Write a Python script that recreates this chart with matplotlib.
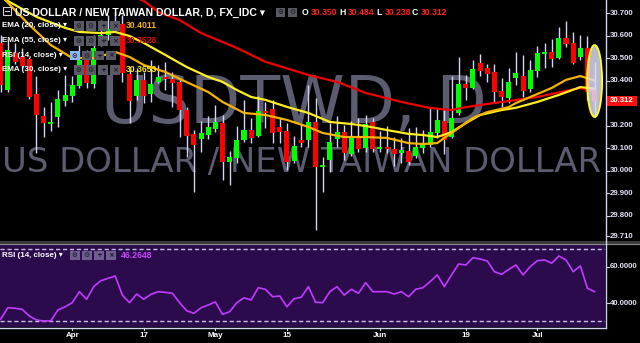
import numpy as np
import pandas as pd
import matplotlib
matplotlib.use("Agg")
import matplotlib.pyplot as plt
from matplotlib.patches import Rectangle, Ellipse

# daily bars, USDTWD (FX_IDC), 20 Mar - 13 Jul 2017
dates = pd.bdate_range("2017-03-20", "2017-07-13")

opens = [30.568, 30.359, 30.524, 30.506, 30.497, 30.341, 30.244, 30.208, 30.239, 30.310,
         30.332, 30.377, 30.492, 30.386, 30.568, 30.604, 30.630, 30.652, 30.430, 30.332,
         30.404, 30.341, 30.395, 30.412, 30.408, 30.395, 30.270, 30.164, 30.141, 30.159,
         30.186, 30.212, 30.039, 30.057, 30.137, 30.181, 30.155, 30.262, 30.275, 30.195,
         30.177, 30.044, 30.137, 30.137, 30.217, 30.017, 30.048, 30.141, 30.172, 30.075,
         30.146, 30.101, 30.217, 30.097, 30.106, 30.097, 30.079, 30.088, 30.066, 30.101,
         30.115, 30.168, 30.221, 30.150, 30.257, 30.386, 30.368, 30.479, 30.457, 30.439,
         30.355, 30.324, 30.412, 30.421, 30.364, 30.444, 30.519, 30.528, 30.501, 30.590,
         30.568, 30.506, 30.546, 30.350]
highs = [30.604, 30.581, 30.568, 30.546, 30.506, 30.421, 30.284, 30.306, 30.359, 30.426,
         30.421, 30.559, 30.537, 30.604, 30.670, 30.692, 30.706, 30.692, 30.448, 30.457,
         30.439, 30.492, 30.470, 30.484, 30.439, 30.404, 30.284, 30.181, 30.221, 30.244,
         30.292, 30.248, 30.088, 30.199, 30.315, 30.235, 30.332, 30.306, 30.315, 30.235,
         30.212, 30.155, 30.212, 30.381, 30.324, 30.061, 30.212, 30.244, 30.203, 30.221,
         30.235, 30.248, 30.235, 30.177, 30.199, 30.150, 30.146, 30.190, 30.195, 30.181,
         30.279, 30.279, 30.270, 30.421, 30.506, 30.426, 30.492, 30.519, 30.475, 30.475,
         30.412, 30.457, 30.528, 30.515, 30.492, 30.555, 30.568, 30.586, 30.639, 30.666,
         30.617, 30.604, 30.599, 30.484]
lows = [30.350, 30.350, 30.475, 30.457, 30.319, 30.079, 30.150, 30.177, 30.195, 30.288,
        30.306, 30.368, 30.368, 30.368, 30.555, 30.581, 30.626, 30.395, 30.212, 30.315,
        30.301, 30.306, 30.390, 30.359, 30.284, 30.150, 30.061, 29.906, 30.084, 30.141,
        30.172, 29.959, 29.937, 30.035, 30.128, 30.124, 30.150, 30.190, 30.124, 30.124,
        30.004, 30.035, 30.106, 30.106, 29.737, 29.906, 29.995, 30.106, 30.048, 30.066,
        30.084, 30.084, 30.084, 30.084, 30.079, 30.021, 30.035, 30.026, 30.057, 30.079,
        30.106, 30.146, 30.075, 30.145, 30.250, 30.315, 30.365, 30.421, 30.395, 30.301,
        30.284, 30.301, 30.381, 30.328, 30.350, 30.417, 30.457, 30.461, 30.498, 30.550,
        30.475, 30.492, 30.315, 30.238]
closes = [30.381, 30.537, 30.484, 30.466, 30.328, 30.248, 30.212, 30.217, 30.319, 30.337,
          30.381, 30.492, 30.390, 30.546, 30.604, 30.630, 30.657, 30.435, 30.310, 30.404,
          30.332, 30.386, 30.417, 30.406, 30.390, 30.270, 30.155, 30.115, 30.168, 30.195,
          30.217, 30.039, 30.061, 30.137, 30.181, 30.146, 30.266, 30.257, 30.168, 30.172,
          30.039, 30.110, 30.124, 30.217, 30.017, 30.026, 30.128, 30.172, 30.079, 30.146,
          30.097, 30.208, 30.097, 30.101, 30.097, 30.075, 30.092, 30.039, 30.106, 30.119,
          30.172, 30.226, 30.137, 30.235, 30.386, 30.368, 30.452, 30.444, 30.430, 30.350,
          30.328, 30.395, 30.435, 30.355, 30.448, 30.524, 30.528, 30.497, 30.590, 30.564,
          30.479, 30.546, 30.350, 30.312]

rsi = [31.1, 37.4, 37.1, 36.5, 32.8, 30.6, 30.0, 30.2, 36.1, 37.9,
       40.2, 46.3, 42.1, 49.1, 52.4, 53.7, 55.0, 44.4, 40.2, 45.0,
       42.1, 44.8, 46.3, 45.9, 45.4, 40.2, 35.7, 34.3, 37.4, 38.9,
       40.6, 33.7, 35.2, 40.2, 42.9, 41.7, 48.5, 47.6, 43.5, 43.9,
       37.9, 42.4, 43.2, 49.1, 40.4, 40.2, 46.3, 49.1, 44.4, 47.6,
       45.4, 51.3, 46.3, 46.3, 46.3, 45.0, 46.3, 43.5, 47.6, 48.5,
       51.8, 55.6, 49.1, 55.6, 61.7, 61.1, 65.2, 64.4, 63.3, 57.4,
       55.9, 58.7, 61.1, 55.6, 60.2, 63.5, 63.9, 62.1, 66.1, 63.9,
       57.4, 60.6, 48.2, 46.3]

# moving averages at selected bars
ema20_at = [0, 4, 7, 10, 13, 16, 18, 20, 23, 26, 29, 31, 34, 37, 40, 43, 45, 48, 51, 54,
            57, 59, 61, 62, 64, 66, 68, 71, 72, 74, 77, 79, 81, 83]
ema20 = [30.780, 30.648, 30.559, 30.501, 30.501, 30.528, 30.506, 30.470, 30.439, 30.394,
         30.350, 30.306, 30.257, 30.248, 30.226, 30.195, 30.168, 30.150, 30.150, 30.146,
         30.123, 30.119, 30.123, 30.146, 30.190, 30.235, 30.261, 30.283, 30.301, 30.328,
         30.368, 30.404, 30.421, 30.401]
ema30_at = [0, 5, 9, 11, 14, 16, 18, 20, 23, 26, 29, 31, 33, 35, 37, 40, 43, 46, 49, 51,
            54, 57, 59, 61, 63, 65, 67, 70, 72, 75, 78, 81, 83]
ema30 = [30.772, 30.684, 30.635, 30.617, 30.612, 30.617, 30.599, 30.568, 30.515, 30.461,
         30.417, 30.395, 30.359, 30.328, 30.315, 30.284, 30.257, 30.217, 30.208, 30.199,
         30.181, 30.164, 30.159, 30.150, 30.172, 30.212, 30.248, 30.270, 30.280, 30.306,
         30.337, 30.372, 30.365]
ema55_at = [17, 20, 22, 25, 28, 33, 37, 43, 47, 51, 56, 60, 63, 65, 68, 71, 75, 79, 81, 83]
ema55 = [30.794, 30.755, 30.706, 30.670, 30.612, 30.546, 30.484, 30.426, 30.395, 30.346,
         30.306, 30.279, 30.270, 30.283, 30.297, 30.310, 30.328, 30.355, 30.368, 30.353]

price_ticks = [30.7, 30.6, 30.5, 30.4, 30.2, 30.1, 30.0, 29.9, 29.8, 29.71]
date_ticks = ["2017-04-03", "2017-04-17", "2017-05-01", "2017-05-15",
              "2017-06-01", "2017-06-19", "2017-07-03"]
date_labels = ["Apr", "17", "May", "15", "Jun", "19", "Jul"]

BG = "black"
UP, DOWN = "#00ff00", "#ff0000"
WICK = "#d4d4f4"
AXC = "#d0d0f0"
W, H = 640, 343
FONT = ["Liberation Sans", "DejaVu Sans"]

fig = plt.figure(figsize=(6.4, 3.43), dpi=100, facecolor=BG)


def px_axes(l, t, r, b):
    return fig.add_axes([l / W, 1 - b / H, (r - l) / W, (b - t) / H])


ax = px_axes(0, 0, 605, 241)
rax = px_axes(0, 245, 605, 327)
for a in (ax, rax):
    a.set_facecolor(BG)
    for s in a.spines.values():
        s.set_visible(False)
    a.set_xlim(-0.1, 84.45)
    a.set_xticks([])
    a.set_yticks([])
ax.set_ylim(29.688, 30.759)
rax.set_ylim(26.7, 72.2)
rax.set_facecolor("#2c0b4d")

x = np.arange(len(dates))
o, h, l, c = map(np.array, (opens, highs, lows, closes))

# watermark
ax.text(101 / 605, 1 - 123 / 241, "USDTWD, D", transform=ax.transAxes,
        fontsize=47, color="#5c5c70", ha="left", va="baseline", zorder=0,
        family="DejaVu Sans")
ax.text(2 / 605, 1 - 172 / 241, "US DOLLAR / NEW TAIWAN DOLLAR", transform=ax.transAxes,
        fontsize=24.4, color="#5c5c70", ha="left", va="baseline", zorder=0,
        family="DejaVu Sans")

# candles
col = np.where(c >= o, UP, DOWN)
ax.vlines(x, l, h, color=WICK, lw=1.0, zorder=2)
body = np.maximum(np.abs(c - o), 0.009)
ax.bar(x, body, bottom=np.minimum(o, c), width=0.7, color=col, zorder=3, linewidth=0)

# EMAs
ax.plot(ema55_at, ema55, color="#f00000", lw=1.6, zorder=4)
ax.plot(ema30_at, ema30, color="#ffee22", lw=1.6, zorder=4)
ax.plot(ema20_at, ema20, color="#f5b400", lw=1.6, zorder=4)

# highlight drawing on the last bar
ax.add_patch(Ellipse((83, 30.399), 2.1, 0.32, facecolor="#dcdcf4", alpha=0.85,
                     edgecolor="none", zorder=5))
ax.add_patch(Ellipse((83, 30.399), 2.1, 0.32, facecolor="none",
                     edgecolor="#ffff20", lw=1.3, zorder=6))

# RSI pane
rax.axhline(70, color="#c8c0e8", lw=1.0, ls=(0, (3, 2)))
rax.axhline(30, color="#c8c0e8", lw=1.0, ls=(0, (3, 2)))
rax.plot(x, rsi, color="#c03cff", lw=1.2)

# overlay in pixel coordinates for axis furniture and legend
ov = fig.add_axes([0, 0, 1, 1], zorder=10)
ov.set_xlim(0, W)
ov.set_ylim(H, 0)
ov.axis("off")
ov.patch.set_alpha(0)

# pane separator
ov.add_patch(Rectangle((0, 241), 640, 3, color="#3a3a3a", lw=0))
ov.plot([0, 640], [244, 244], color="#8a8a8a", lw=0.8)
# axis lines
ov.plot([605.5, 605.5], [0, 327], color=AXC, lw=1)
ov.plot([0, 605.5], [327.5, 327.5], color=AXC, lw=1)


def y_price(p):
    return 241 * (30.759 - p) / (30.759 - 29.688)


def y_rsi(v):
    return 245 + 82 * (72.2 - v) / (72.2 - 26.7)


def x_bar(i):
    return 605 * (i + 0.1) / 84.55


for p in price_ticks:
    yy = y_price(p)
    ov.plot([605.5, 609], [yy, yy], color=AXC, lw=0.8)
    ov.text(610, yy, f"{p:.3f}", color="#e4e4f8", fontsize=5.6, fontweight="bold",
            va="center", ha="left", family=FONT)
for v in (60, 40):
    yy = y_rsi(v)
    ov.plot([605.5, 609], [yy, yy], color=AXC, lw=0.8)
    ov.text(610, yy, f"{v:.4f}", color="#e4e4f8", fontsize=5.6, fontweight="bold",
            va="center", ha="left", family=FONT)

# last price tag
yl = y_price(closes[-1])
ov.add_patch(Rectangle((606, yl - 5), 31, 10, color="#ff1010", lw=0))
ov.text(621.5, yl, f"{closes[-1]:.3f}", color="white", fontsize=5.6, fontweight="bold",
        va="center", ha="center", family=FONT)

# date axis
for d, lab in zip(date_ticks, date_labels):
    xx = x_bar(dates.get_loc(pd.Timestamp(d)))
    ov.plot([xx, xx], [327.5, 330], color=AXC, lw=0.8)
    ov.text(xx, 335.5, lab, color="white", fontsize=5.8, fontweight="bold",
            va="center", ha="center", family=FONT)


# legend rows
def icons(x0, yc, n, fc="#5a5a66", first=None):
    glyphs = ["\u2299", "\u2699", "+", "\u00d7"][:n]
    for k, g in enumerate(glyphs):
        xx = x0 + k * 12
        f = first if (k == 0 and first) else fc
        ov.add_patch(Rectangle((xx, yc - 4.5), 9.5, 9.5, color=f, lw=0))
        ov.text(xx + 4.75, yc + 0.3, g, color="#1a1a22", fontsize=5, ha="center",
                va="center", family="DejaVu Sans", fontweight="bold")


ov.add_patch(Rectangle((3, 7), 8, 8, facecolor="none", edgecolor="#d0d0e0", lw=0.8))
ov.plot([5, 9], [11, 11], color="#d0d0e0", lw=0.8)
ov.text(15, 12.5, "US DOLLAR / NEW TAIWAN DOLLAR, D, FX_IDC \u25be", color="white",
        fontsize=7.6, fontweight="bold", va="center", ha="left", family=FONT)
icons(275.5, 12, 2)
ohlc = [("O", opens[-1], 302), ("H", highs[-1], 339), ("L", lows[-1], 376),
        ("C", closes[-1], 412)]
for k, val, xx in ohlc:
    ov.text(xx, 12.5, k, color="white", fontsize=6.2, fontweight="bold", va="center",
            family=FONT)
    ov.text(xx + 8.5, 12.5, f"{val:.3f}", color="#ff2020", fontsize=6.2,
            fontweight="bold", va="center", family=FONT)

rows = [("EMA (20, close) \u25be", 25.7, "30.4011", "#f5b400", None),
        ("EMA (55, close) \u25be", 40.7, "30.3528", "#e00000", None),
        ("RSI (14, close) \u25be", 55.2, "", "", "#8ab8f0"),
        ("EMA (30, close) \u25be", 69.5, "30.3653", "#ffee22", None)]
for label, yc, val, vc, first in rows:
    ov.text(2, yc, label, color="white", fontsize=5.8, fontweight="bold", va="center",
            family=FONT)
    x0 = 70 if label.startswith("RSI") else 74
    icons(x0, yc, 4, first=first)
    if val:
        ov.text(126, yc, val, color=vc, fontsize=6.2, fontweight="bold", va="center",
                family=FONT)

ov.text(2, 255.5, "RSI (14, close) \u25be", color="white", fontsize=5.8, fontweight="bold",
        va="center", family=FONT)
icons(70, 255, 4, fc="#6e5e90")
ov.text(121, 255.5, f"{46.2648:.4f}", color="#cc44ff", fontsize=6.2, fontweight="bold",
        va="center", family=FONT)

fig.savefig("out.png", dpi=100, facecolor=BG)
